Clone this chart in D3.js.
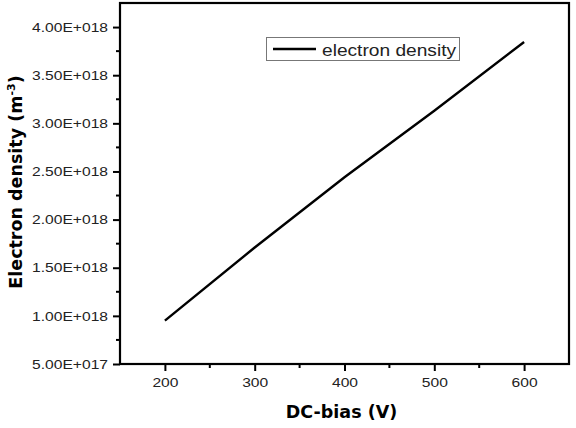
<!DOCTYPE html>
<html><head><meta charset="utf-8">
<script src="https://cdn.jsdelivr.net/npm/d3@7"></script>
<style>body{margin:0;background:#fff}svg{display:block}text{font-family:Arial,"Liberation Sans",sans-serif}</style>
</head><body>
<script>
const biasV = [200, 300, 400, 500, 600];
const density = [0.95e18, 1.71e18, 2.44e18, 3.13e18, 3.845e18];
const xTicks = [200, 300, 400, 500, 600];
const yTicks = [5e17, 1e18, 1.5e18, 2e18, 2.5e18, 3e18, 3.5e18, 4e18];
const seriesName = "electron density";

const W = 576, H = 428;
const m = {l: 120, r: 7, t: 3, b: 64};
const svg = d3.select("body").append("svg").attr("width", W).attr("height", H);
const x = d3.scaleLinear().domain([150, 650]).range([m.l, W - m.r]);
const y = d3.scaleLinear().domain([5e17, 4.25e18]).range([H - m.b, m.t]);

const fmt = v => {
  const e = Math.floor(Math.log10(v));
  const mant = v / Math.pow(10, e);
  return mant.toFixed(2) + "E+" + String(e).padStart(3, "0");
};
const stretch = (sel, k) => sel.each(function() {
  const L = this.getComputedTextLength();
  d3.select(this).attr("textLength", L * k).attr("lengthAdjust", "spacingAndGlyphs");
});

// minor ticks
const xMinor = d3.range(250, 650, 100);
const yMinor = d3.range(7.5e17, 4.25e18, 5e17);
const g = svg.append("g");
g.selectAll(".xm").data(xMinor).join("line")
  .attr("x1", d => x(d)).attr("x2", d => x(d))
  .attr("y1", H - m.b).attr("y2", H - m.b + 4).attr("stroke", "#000").attr("stroke-width", 2);
g.selectAll(".ym").data(yMinor).join("line")
  .attr("y1", d => y(d)).attr("y2", d => y(d))
  .attr("x1", m.l).attr("x2", m.l - 4).attr("stroke", "#000").attr("stroke-width", 2);

const xAxis = svg.append("g").attr("transform", `translate(0,${H - m.b})`)
  .call(d3.axisBottom(x).tickValues(xTicks).tickSize(7).tickPadding(7).tickSizeOuter(0));
const yAxis = svg.append("g").attr("transform", `translate(${m.l},0)`)
  .call(d3.axisLeft(y).tickValues(yTicks).tickFormat(fmt).tickSize(7).tickPadding(5).tickSizeOuter(0));
[xAxis, yAxis].forEach(a => {
  a.attr("font-size", null).attr("font-family", null);
  a.select(".domain").remove();
  a.selectAll(".tick line").attr("stroke-width", 2);
  a.selectAll(".tick text").attr("fill", "#222")
   .style("font-size", "13px")
   .style("font-family", "Arial, 'Liberation Sans', sans-serif")
   .call(stretch, 1.2);
});

// frame
svg.append("rect").attr("x", m.l).attr("y", m.t)
  .attr("width", W - m.r - m.l).attr("height", H - m.b - m.t)
  .attr("fill", "none").attr("stroke", "#000").attr("stroke-width", 2.2);

// line
const line = d3.line().x((d, i) => x(biasV[i])).y(d => y(d));
svg.append("path").datum(density).attr("d", line)
  .attr("fill", "none").attr("stroke", "#000").attr("stroke-width", 2.4);

// legend
const lg = svg.append("g");
lg.append("rect").attr("x", 266.5).attr("y", 37.5).attr("width", 193).attr("height", 23)
  .attr("fill", "#fff").attr("stroke", "#777").attr("stroke-width", 1);
lg.append("line").attr("x1", 273).attr("x2", 316).attr("y1", 49).attr("y2", 49)
  .attr("stroke", "#000").attr("stroke-width", 2.4);
lg.append("text").attr("x", 322).attr("y", 55.5).style("font-size", "16.5px").attr("fill", "#222")
  .text(seriesName).call(stretch, 1.16);

// axis titles
svg.append("text").attr("x", (m.l + W - m.r) / 2 - 3).attr("y", 418).attr("text-anchor", "middle")
  .style("font-size", "17.5px").attr("font-weight", "bold").style("font-family", "Verdana, 'DejaVu Sans', sans-serif")
  .text("DC-bias (V)");
const yt = svg.append("text").attr("transform", `translate(22,${182}) rotate(-90)`)
  .attr("text-anchor", "middle").style("font-size", "17.5px").attr("font-weight", "bold")
  .style("font-family", "Verdana, 'DejaVu Sans', sans-serif");
yt.append("tspan").text("Electron density (m");
yt.append("tspan").attr("dy", -7).style("font-size", "11px").text("-3");
yt.append("tspan").attr("dy", 7).text(")");
</script>
</body></html>
